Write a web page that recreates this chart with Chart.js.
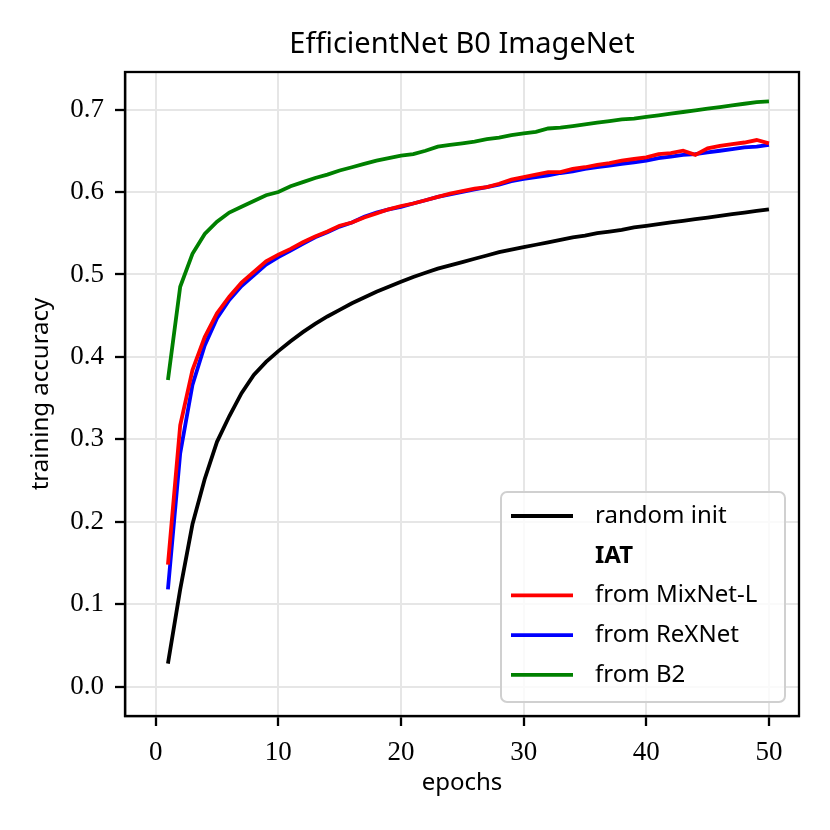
<!DOCTYPE html>
<html>
<head>
<meta charset="utf-8">
<script src="https://cdn.jsdelivr.net/npm/chart.js@4.4.0/dist/chart.umd.min.js"></script>
<style>
  html, body { margin: 0; padding: 0; background: #fff; }
  #wrap { width: 830px; height: 830px; }
</style>
</head>
<body>
<div id="wrap"><canvas id="accChart" width="830" height="830"></canvas></div>
<script>
// epochs (x) and training accuracy per run
const epochs = [1, 2, 3, 4, 5, 6, 7, 8, 9, 10, 11, 12, 13, 14, 15, 16, 17, 18, 19, 20,
    21, 22, 23, 24, 25, 26, 27, 28, 29, 30, 31, 32, 33, 34, 35, 36, 37, 38, 39, 40,
    41, 42, 43, 44, 45, 46, 47, 48, 49, 50];

const randomInit = [0.028, 0.118, 0.197, 0.252, 0.297, 0.328, 0.356, 0.378, 0.394, 0.407,
    0.419, 0.430, 0.440, 0.449, 0.457, 0.465, 0.472, 0.479, 0.485, 0.491,
    0.497, 0.502, 0.507, 0.511, 0.515, 0.519, 0.523, 0.527, 0.530, 0.533,
    0.536, 0.539, 0.542, 0.545, 0.547, 0.550, 0.552, 0.554, 0.557, 0.559,
    0.561, 0.563, 0.565, 0.567, 0.569, 0.571, 0.573, 0.575, 0.577, 0.579];

const fromMixNet = [0.148, 0.317, 0.384, 0.424, 0.453, 0.473, 0.490, 0.503, 0.516, 0.524,
    0.531, 0.539, 0.546, 0.552, 0.559, 0.563, 0.569, 0.574, 0.579, 0.583,
    0.586, 0.590, 0.594, 0.598, 0.601, 0.604, 0.606, 0.610, 0.615, 0.618,
    0.621, 0.624, 0.624, 0.628, 0.630, 0.633, 0.635, 0.638, 0.640, 0.642,
    0.646, 0.647, 0.650, 0.645, 0.653, 0.656, 0.658, 0.660, 0.663, 0.659];

const fromReXNet = [0.118, 0.283, 0.366, 0.414, 0.447, 0.469, 0.486, 0.499, 0.512, 0.521,
    0.529, 0.537, 0.545, 0.551, 0.558, 0.563, 0.570, 0.575, 0.579, 0.582,
    0.586, 0.590, 0.594, 0.597, 0.600, 0.603, 0.606, 0.609, 0.613, 0.616,
    0.618, 0.620, 0.623, 0.625, 0.628, 0.630, 0.632, 0.634, 0.636, 0.638,
    0.641, 0.643, 0.645, 0.646, 0.648, 0.650, 0.652, 0.654, 0.655, 0.657];

const fromB2 = [0.372, 0.485, 0.525, 0.549, 0.564, 0.575, 0.582, 0.589, 0.596, 0.600,
    0.607, 0.612, 0.617, 0.621, 0.626, 0.630, 0.634, 0.638, 0.641, 0.644,
    0.646, 0.650, 0.655, 0.657, 0.659, 0.661, 0.664, 0.666, 0.669, 0.671,
    0.673, 0.677, 0.678, 0.680, 0.682, 0.684, 0.686, 0.688, 0.689, 0.691,
    0.693, 0.695, 0.697, 0.699, 0.701, 0.703, 0.705, 0.707, 0.709, 0.710];

const xTicks = [0, 10, 20, 30, 40, 50];
const yTicks = [0.0, 0.1, 0.2, 0.3, 0.4, 0.5, 0.6, 0.7];
const chartTitle = 'EfficientNet B0 ImageNet';

const SANS = '"Noto Sans", "DejaVu Sans", sans-serif';
const SERIF = '"Liberation Serif", "DejaVu Serif", serif';

function toPoints(values) {
    return values.map((v, i) => ({ x: epochs[i], y: v }));
}

function line(label, values, color) {
    return {
        label: label,
        data: toPoints(values),
        borderColor: color,
        backgroundColor: color,
        borderWidth: 3.8,
        pointRadius: 0,
        tension: 0,
        fill: false
    };
}

// title centred over the axes, frame (top/right spines) + legend inside the axes
const frameAndLegend = {
    id: 'frameAndLegend',
    afterDatasetsDraw(chart) {
        const { ctx, chartArea: a } = chart;
        ctx.save();
        ctx.strokeStyle = '#000';
        ctx.lineWidth = 2.3;
        ctx.strokeRect(a.left, a.top, a.right - a.left, a.bottom - a.top);

        ctx.fillStyle = '#000';
        ctx.font = '29px ' + SANS;
        ctx.textAlign = 'center';
        ctx.textBaseline = 'middle';
        ctx.fillText(chartTitle, (a.left + a.right) / 2, a.top - 27);

        const items = chart.data.datasets;
        const rowH = 39.7;
        const boxW = 284, boxH = 210;
        const bx = a.right - 14 - boxW, by = a.bottom - 14 - boxH;

        ctx.beginPath();
        ctx.roundRect(bx, by, boxW, boxH, 6);
        ctx.fillStyle = 'rgba(255,255,255,0.8)';
        ctx.fill();
        ctx.strokeStyle = '#d0d0d0';
        ctx.lineWidth = 2;
        ctx.stroke();

        ctx.textAlign = 'left';
        items.forEach((ds, i) => {
            const cy = by + 24 + i * rowH;
            if (!ds.header) {
                ctx.beginPath();
                ctx.moveTo(bx + 10, cy);
                ctx.lineTo(bx + 72, cy);
                ctx.strokeStyle = ds.borderColor;
                ctx.lineWidth = 3.8;
                ctx.stroke();
            }
            ctx.fillStyle = '#000';
            ctx.font = (ds.header ? 'bold ' : '') + '24px ' + SANS;
            ctx.fillText(ds.label, bx + 94, cy);
        });
        ctx.restore();
    }
};

const accChart = new Chart(document.getElementById('accChart'), {
    type: 'line',
    data: {
        datasets: [
            line('random init', randomInit, '#000000'),
            { label: 'IAT', data: [], header: true, borderColor: 'rgba(0,0,0,0)', pointRadius: 0 },
            line('from MixNet-L', fromMixNet, '#ff0000'),
            line('from ReXNet', fromReXNet, '#0000ff'),
            line('from B2', fromB2, '#008000')
        ]
    },
    options: {
        responsive: false,
        animation: false,
        devicePixelRatio: 1,
        layout: { padding: { top: 72, right: 31, bottom: 0, left: 0 } },
        plugins: {
            legend: { display: false },
            tooltip: { enabled: false },
            title: { display: false }
        },
        scales: {
            x: {
                type: 'linear',
                min: -2.5,
                max: 52.45,
                afterBuildTicks: s => { s.ticks = xTicks.map(v => ({ value: v })); },
                afterFit: s => { s.height = 114; },
                grid: { color: '#e6e6e6', lineWidth: 2, tickColor: '#000', tickLength: 10, tickWidth: 2.3 },
                border: { display: true, color: '#000', width: 2.3 },
                ticks: { color: '#000', padding: 11, font: { family: SERIF, size: 27 }, maxRotation: 0 },
                title: { display: true, text: 'epochs', color: '#000', font: { family: SANS, size: 24 }, padding: { top: 0, bottom: 32 } }
            },
            y: {
                type: 'linear',
                min: -0.0355,
                max: 0.7455,
                afterBuildTicks: s => { s.ticks = yTicks.map(v => ({ value: v })); },
                afterFit: s => { s.width = 125; },
                grid: { color: '#e6e6e6', lineWidth: 2, tickColor: '#000', tickLength: 10, tickWidth: 2.3 },
                border: { display: true, color: '#000', width: 2.3 },
                ticks: { color: '#000', padding: 11, font: { family: SERIF, size: 27 }, callback: v => v.toFixed(1) },
                title: { display: true, text: 'training accuracy', color: '#000', font: { family: SANS, size: 24 }, padding: { top: 27, bottom: 0 } }
            }
        }
    },
    plugins: [frameAndLegend]
});
</script>
</body>
</html>
